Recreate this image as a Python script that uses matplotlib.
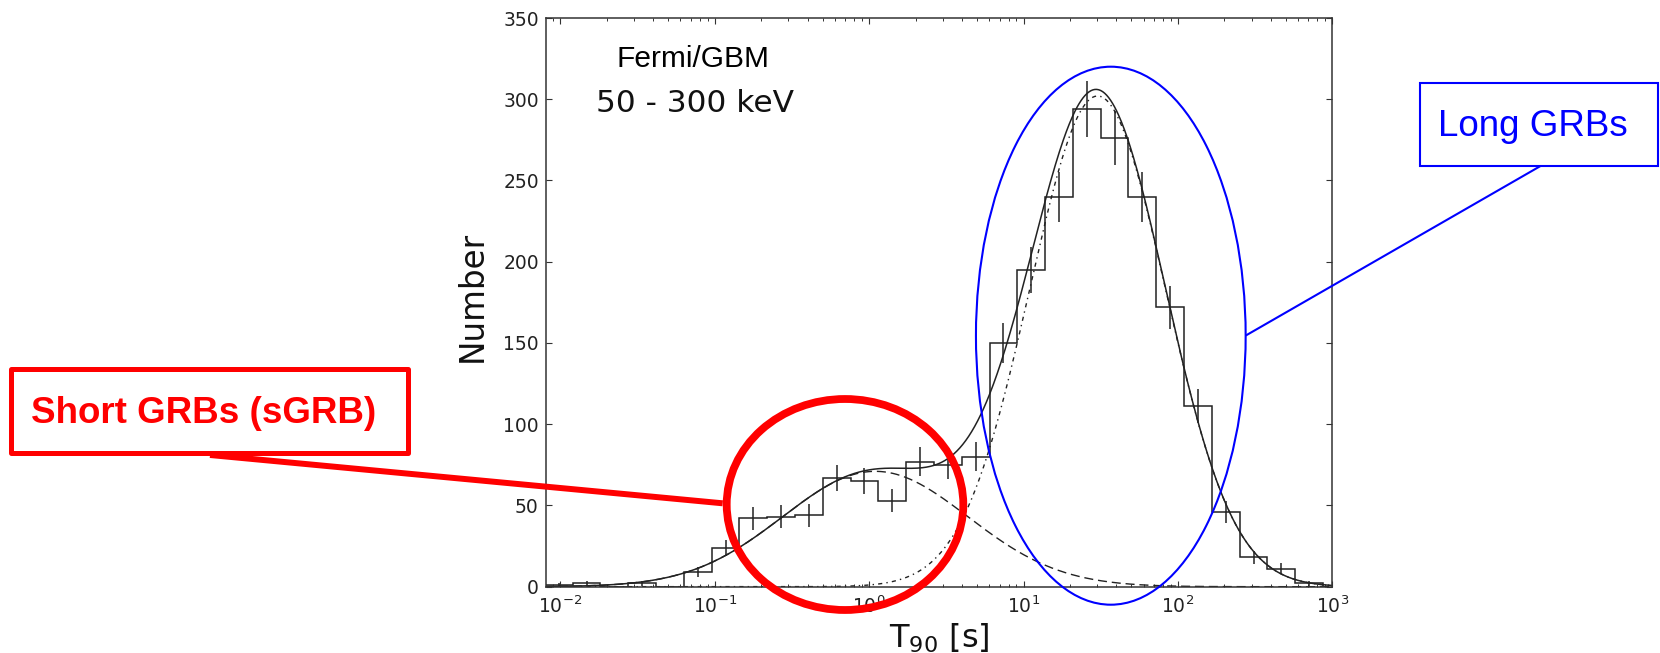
import numpy as np
import matplotlib
matplotlib.use('agg')
import matplotlib.pyplot as plt
from matplotlib.patches import Ellipse, Rectangle
from matplotlib.ticker import LogLocator, NullFormatter

# histogram of log10(T90), bin edges in dex
log_edges = [-2.10, -1.92, -1.74, -1.56, -1.38, -1.20, -1.02, -0.84, -0.66, -0.48,
             -0.30, -0.12, 0.06, 0.24, 0.42, 0.60, 0.78, 0.96, 1.14, 1.32,
             1.50, 1.68, 1.86, 2.04, 2.22, 2.40, 2.58, 2.76, 2.94]
counts = [1, 2, 0, 2, 0, 9, 24, 42, 43, 44,
          67, 65, 53, 77, 75, 80, 150, 195, 240, 294,
          276, 240, 172, 111, 46, 18, 11, 2]
errors = [1.0, 1.4, 0, 1.4, 0, 3.0, 4.9, 7.0, 7.0, 7.0,
          8.2, 8.1, 7.3, 8.8, 8.7, 8.9, 12.2, 14.0, 15.5, 17.5,
          16.6, 15.5, 13.1, 10.5, 6.8, 4.2, 3.3, 1.4]

# lognormal fit components: amplitude, log10 centre, log10 width
short_fit = (71.0, 0.04, 0.60)
long_fit = (302.0, 1.48, 0.44)

yticks = [0, 50, 100, 150, 200, 250, 300, 350]

W, H = 1660, 653
fig = plt.figure(figsize=(W / 100, H / 100), dpi=100)
ax = fig.add_axes([545.7 / W, 1 - 586.7 / H, 786.6 / W, 568.7 / H])

edges = 10 ** np.array(log_edges)
ink = '#222222'
ax.stairs(counts, edges, baseline=0, color=ink, lw=1.1)
centres = np.sqrt(edges[:-1] * edges[1:])
c = np.array(counts)
e = np.array(errors)
keep = c > 0
ax.errorbar(centres[keep], c[keep], yerr=e[keep], fmt='none', ecolor=ink, elinewidth=1.1, capsize=0)


def gauss(t, p):
    a, mu, sig = p
    return a * np.exp(-(np.log10(t) - mu) ** 2 / (2 * sig ** 2))


t = np.logspace(-2.1, 3, 800)
s = gauss(t, short_fit)
l = gauss(t, long_fit)
ax.plot(t, s + l, color=ink, lw=1.1)
ax.plot(t, s, color=ink, lw=1.0, ls=(0, (6.5, 3.5)))
ax.plot(t, l, color=ink, lw=1.0, ls=(0, (3, 3, 1, 3)))

ax.set_xscale('log')
ax.set_xlim(0.00804, 1000)
ax.set_ylim(0, 350)
ax.set_yticks(yticks)
ax.xaxis.set_minor_locator(LogLocator(base=10, subs=np.arange(2, 10)))
ax.xaxis.set_minor_formatter(NullFormatter())
ax.tick_params(which='both', direction='in', top=True, right=True, colors='#333333',
               labelcolor='#222222', labelsize=13.5)
ax.tick_params(which='major', length=4.5, width=0.8)
ax.tick_params(which='minor', length=2.5, width=0.7)
ax.tick_params(axis='y', pad=5)
ax.tick_params(axis='x', pad=6)
for sp in ax.spines.values():
    sp.set_color('#333333')
    sp.set_linewidth(1.1)

ax.set_ylabel('Number', fontsize=23.5, color='#111111')
ax.yaxis.set_label_coords(-0.072, 0.51)
ax.set_xlabel(r'T$_{90}$ [s]', fontsize=23, color='#111111')
ax.xaxis.set_label_coords(0.5, -0.062)

ax.text(0.187, 0.914, 'Fermi/GBM', transform=ax.transAxes, ha='center', va='baseline',
        fontsize=21.5, family='Liberation Sans', color='black')
ax.text(0.190, 0.835, '50 - 300 keV', transform=ax.transAxes, ha='center', va='baseline',
        fontsize=22.5, color='#111111')

# annotation layer in pixel coordinates
ov = fig.add_axes([0, 0, 1, 1], facecolor='none')
ov.set_xlim(0, W)
ov.set_ylim(H, 0)
ov.axis('off')

red = '#ff0000'
blue = '#0000ff'
ov.add_patch(Ellipse((845, 504.5), 236.6, 211, fill=False, ec=red, lw=5.6))
ov.plot([210, 722.7], [455, 503.3], color=red, lw=4.3, solid_capstyle='butt')
ov.add_patch(Rectangle((10.8, 368.5), 396.7, 84, fill=False, ec=red, lw=3.6, joinstyle='round'))
ov.text(204, 423.3, 'Short GRBs (sGRB)', ha='center', va='baseline', color=red,
        fontsize=26.5, fontweight='bold', family='Liberation Sans')

ov.add_patch(Ellipse((1110.8, 335.7), 269.7, 538, fill=False, ec=blue, lw=1.5))
ov.plot([1539.3, 1246.7], [166.7, 335], color=blue, lw=1.5)
ov.add_patch(Rectangle((1420.3, 83.3), 238, 82.4, fill=False, ec=blue, lw=1.5))
ov.text(1533.3, 136, 'Long GRBs', ha='center', va='baseline', color=blue,
        fontsize=26.5, family='Liberation Sans')

fig.savefig('out.png', dpi=100)
